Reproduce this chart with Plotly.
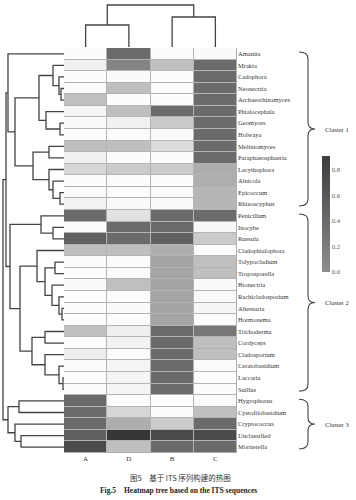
import plotly.graph_objects as go

# ---------------- data ----------------
columns = ["A", "D", "B", "C"]
genera = ["Amanita", "Mrakia", "Cadophora", "Neonectria", "Archaeorhizomyces",
          "Phialocephala", "Geomyces", "Holwaya", "Meliniomyces", "Paraphaeosphaeria",
          "Lecythophora", "Alnicola", "Epicoccum", "Rhizoscyphus",
          "Penicillum", "Inocybe", "Russula", "Cladophialophora", "Tolypocladium",
          "Troposporella", "Bionectria", "Rachicladosporium", "Alternaria", "Hormonema",
          "Trichoderma", "Cordyceps", "Cladosporium", "Ceratobasidium", "Laccaria", "Suillus",
          "Hygrophorus", "Cystofilobasidium", "Cryptococcus", "Unclassified", "Mortierella"]
col_A = [0.02, 0.08, 0.02, 0.03, 0.30, 0.06, 0.03, 0.02, 0.30, 0.08, 0.20, 0.02, 0.03, 0.07,
         0.70, 0.02, 0.75, 0.30, 0.02, 0.02, 0.03, 0.02, 0.02, 0.02, 0.30, 0.02, 0.10, 0.02, 0.02, 0.02,
         0.70, 0.70, 0.70, 0.75, 0.85]
col_D = [0.70, 0.60, 0.03, 0.30, 0.02, 0.30, 0.08, 0.02, 0.30, 0.02, 0.25, 0.02, 0.02, 0.03,
         0.15, 0.70, 0.70, 0.30, 0.02, 0.03, 0.30, 0.02, 0.03, 0.02, 0.10, 0.07, 0.02, 0.06, 0.06, 0.06,
         0.02, 0.20, 0.40, 0.95, 0.30]
col_B = [0.02, 0.30, 0.02, 0.02, 0.02, 0.70, 0.25, 0.03, 0.18, 0.02, 0.25, 0.02, 0.03, 0.03,
         0.70, 0.70, 0.75, 0.40, 0.45, 0.45, 0.45, 0.45, 0.45, 0.45, 0.70, 0.70, 0.70, 0.70, 0.70, 0.70,
         0.02, 0.02, 0.25, 0.85, 0.70]
col_C = [0.03, 0.70, 0.70, 0.70, 0.70, 0.70, 0.70, 0.70, 0.70, 0.70, 0.40, 0.40, 0.35, 0.35,
         0.70, 0.04, 0.25, 0.02, 0.30, 0.30, 0.03, 0.03, 0.06, 0.02, 0.65, 0.30, 0.30, 0.02, 0.02, 0.02,
         0.03, 0.30, 0.70, 0.85, 0.70]

# row dendrogram: (left, right, merge height); leaves are row indices
row_tree = (
    (
        (0, (((1, (2, (3, 4, 3), 5), 11), (5, (6, 7, 4), 18), 25),
             ((8, 9, 15), (10, (11, (12, 13, 4), 11), 15), 31), 49), 56),
        (((14, (15, 16, 11), 23),
          ((17, ((18, 19, 9), (20, (21, (22, 23, 2), 5), 12), 19), 27),
           ((24, 25, 19), (26, (27, (28, 29, 1), 5), 19), 32), 44), 54)),
        58),
    (((30, 31, 45), (32, (33, 34, 43), 49), 56)),
    61)
# column dendrogram
col_tree = ((0, 1, 22), (2, 3, 30), 42)

clusters = [("Cluster 1", 0, 13), ("Cluster 2", 14, 29), ("Cluster 3", 30, 34)]
cbar_ticks = [0.0, 0.2, 0.4, 0.6, 0.8]

# ---------------- helpers ----------------
def dendro_segments(node, xs, ys):
    if isinstance(node, int):
        return float(node), 0.0
    left, right, h = node
    pl, hl = dendro_segments(left, xs, ys)
    pr, hr = dendro_segments(right, xs, ys)
    xs.extend([hl, h, h, hr, None])
    ys.extend([pl, pl, pr, pr, None])
    return (pl + pr) / 2, h

z = [[a, d, b, c] for a, d, b, c in zip(col_A, col_D, col_B, col_C)]
rows = list(range(len(genera)))

colorscale = [[0.0, "#ffffff"], [0.1, "#eeeeee"], [0.3, "#bfbfbf"],
              [0.5, "#9c9c9c"], [0.7, "#6b6b6b"], [1.0, "#2b2b2b"]]

fig = go.Figure()
fig.add_trace(go.Heatmap(z=z, x=list(range(len(columns))), y=rows, zmin=0, zmax=1,
                         colorscale=colorscale, showscale=False, xgap=1, ygap=1,
                         hoverinfo="skip"))

hx, py = [], []
dendro_segments(row_tree, hx, py)
fig.add_trace(go.Scatter(x=hx, y=py, mode="lines", xaxis="x2", yaxis="y",
                         line=dict(color="#444444", width=1.3), hoverinfo="skip",
                         showlegend=False))
ch, cp = [], []
dendro_segments(col_tree, ch, cp)
fig.add_trace(go.Scatter(x=cp, y=ch, mode="lines", xaxis="x", yaxis="y3",
                         line=dict(color="#444444", width=1.3), hoverinfo="skip",
                         showlegend=False))

# colour bar (greyscale ramp as printed); markers placed outside the plotted range
fig.add_trace(go.Scatter(x=[-20, -20], y=[-20, -20], mode="markers", hoverinfo="skip",
                         showlegend=False, cliponaxis=True,
                         marker=dict(size=1, opacity=0, color=[0, 0.91], cmin=0, cmax=0.91,
                                     colorscale=[[0, "#8e8e8e"], [1, "#3c3c3c"]],
                                     showscale=True,
                                     colorbar=dict(x=322 / 356, xanchor="left", xpad=0,
                                                   y=1 - 214 / 500, ypad=0,
                                                   yanchor="middle", len=116, lenmode="pixels",
                                                   thickness=8, outlinewidth=0,
                                                   tickvals=cbar_ticks,
                                                   ticktext=[f"{t:.1f}" for t in cbar_ticks],
                                                   ticks="", ticklabelposition="outside",
                                                   tickfont=dict(family="Liberation Serif", size=6.5,
                                                                 color="#555555")))))

shapes = [dict(type="rect", xref="x", yref="y", x0=-0.5, x1=3.5, y0=-0.5, y1=34.5,
               fillcolor="#b4b4b4", line=dict(color="#a8a8a8", width=1), layer="below")]
annotations = []
xl, xm, xt = 299 / 356, 308 / 356, 315 / 356
for name, r0, r1 in clusters:
    top, bot = r0 - 0.15, r1 + 0.15
    mid = (top + bot) / 2
    d = 0.6
    path = (f"M {xl},{top} Q {xm},{top} {xm},{top + d} L {xm},{mid - d} "
            f"Q {xm},{mid} {xt},{mid} Q {xm},{mid} {xm},{mid + d} L {xm},{bot - d} "
            f"Q {xm},{bot} {xl},{bot}")
    shapes.append(dict(type="path", path=path, xref="paper", yref="y",
                       line=dict(color="#444444", width=1.1)))
    annotations.append(dict(text=name, x=323 / 356, y=mid, xref="paper", yref="y",
                            xanchor="left", yanchor="middle", showarrow=False,
                            font=dict(family="Liberation Serif", size=6.5, color="#333333")))

annotations.append(dict(text="图5　基于 ITS 序列构建的热图", x=180 / 356, y=1 - 477 / 500,
                        xref="paper", yref="paper", showarrow=False, xanchor="center",
                        yanchor="middle",
                        font=dict(family="Noto Sans CJK SC", size=7.5, color="#333333")))
annotations.append(dict(text="<b>Fig.5　Heatmap tree based on the ITS sequences</b>",
                        x=178 / 356, y=1 - 490 / 500, xref="paper", yref="paper",
                        showarrow=False, xanchor="center", yanchor="middle",
                        font=dict(family="Liberation Serif", size=7.5, color="#222222")))

fig.update_layout(
    width=356, height=500, margin=dict(l=0, r=0, t=0, b=0),
    paper_bgcolor="white", plot_bgcolor="white", showlegend=False,
    xaxis=dict(domain=[64 / 356, 237 / 356], range=[-0.5, 3.5], tickvals=list(range(4)),
               ticktext=columns, ticks="", showgrid=False, zeroline=False, showline=False,
               tickfont=dict(family="Liberation Serif", size=7, color="#333333"),
               anchor="y"),
    yaxis=dict(domain=[1 - 453 / 500, 1 - 48 / 500], range=[34.5, -0.5], tickvals=rows,
               ticktext=genera, side="right", ticks="", showgrid=False, zeroline=False,
               tickfont=dict(family="Liberation Serif", size=6.5, color="#333333"),
               anchor="x"),
    xaxis2=dict(domain=[0, 64 / 356], range=[64, 0], visible=False, anchor="y"),
    yaxis3=dict(domain=[1 - 47 / 500, 1], range=[0, 47], visible=False, anchor="x"),
    shapes=shapes, annotations=annotations,
)
fig.write_html("out.html", config={"displayModeBar": False},
               post_script="document.body.style.margin='0';document.body.style.overflow='hidden';")
